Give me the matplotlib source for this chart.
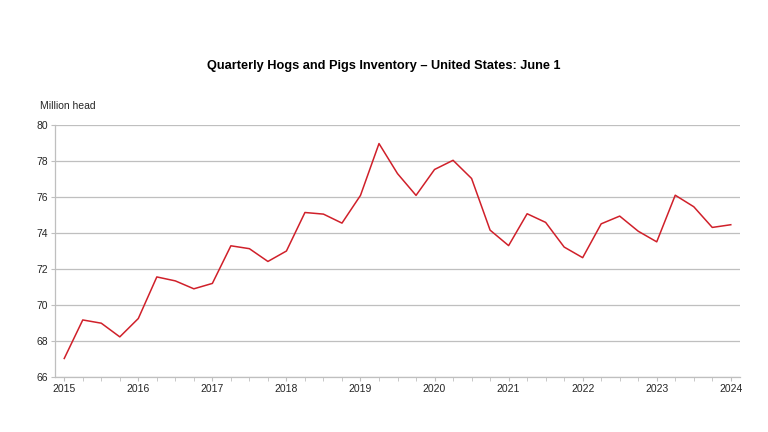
import numpy as np
import matplotlib as mpl
import matplotlib.pyplot as plt

mpl.rc('font', family='Liberation Sans')

# quarterly inventory, million head (2015 Q1 .. 2024 Q1)
quarters = np.arange(2015, 2024.01, 0.25)
inventory = [67.03, 69.17, 68.99, 68.23, 69.25, 71.56, 71.34, 70.90,
             71.20, 73.29, 73.13, 72.42, 73.00, 75.14, 75.05, 74.55,
             76.09, 78.97, 77.30, 76.09, 77.53, 78.04, 77.03, 74.16,
             73.30, 75.07, 74.59, 73.22, 72.63, 74.51, 74.94, 74.10,
             73.51, 76.10, 75.46, 74.31, 74.46]
years = list(range(2015, 2025))
yticks = [66, 68, 70, 72, 74, 76, 78, 80]

fig = plt.figure(figsize=(7.68, 4.32), dpi=100)
ax = fig.add_axes([0.0716, 0.1273, 0.892, 0.5833])

ax.plot(quarters, inventory, color='#d0202a', linewidth=1.1, zorder=3)

ax.set_xlim(2015 - 0.125, 2024 + 0.125)
ax.set_ylim(66, 80)
ax.set_yticks(yticks)
ax.set_xticks(years, [str(y) for y in years])
ax.set_xticks(quarters, minor=True)
ax.yaxis.grid(True, color='#bfbfbf', linewidth=0.9)
ax.set_axisbelow(True)

for s in ['top', 'right']:
    ax.spines[s].set_visible(False)
for s in ['left', 'bottom']:
    ax.spines[s].set_color('#bfbfbf')
    ax.spines[s].set_linewidth(0.9)

ax.tick_params(axis='both', which='both', length=3, color='#bfbfbf',
               labelsize=7.5, labelcolor='#262626', pad=2)

fig.text(0.5, 1 - 66 / 432, 'Quarterly Hogs and Pigs Inventory \u2013 United States: June 1',
         ha='center', va='center', fontsize=9.2, fontweight='bold')
fig.text(40 / 768, 1 - 106 / 432, 'Million head', ha='left', va='center',
         fontsize=7.5, color='#262626')

plt.savefig('out.png', dpi=100)
